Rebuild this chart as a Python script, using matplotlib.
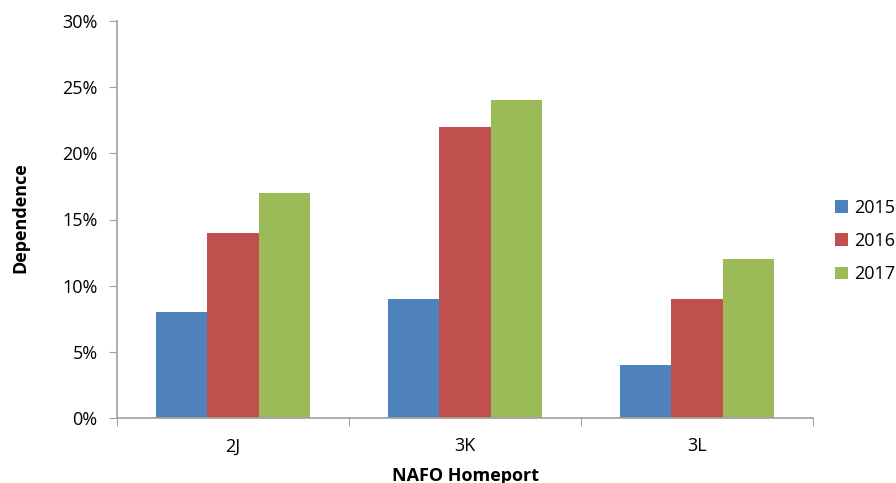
import numpy as np
import matplotlib.pyplot as plt
from matplotlib.ticker import FuncFormatter

plt.rcParams['font.family'] = ['Open Sans', 'DejaVu Sans']

ports = ['2J', '3K', '3L']
years = ['2015', '2016', '2017']
dep_2015 = [8, 9, 4]
dep_2016 = [14, 22, 9]
dep_2017 = [17, 24, 12]

cols = ['#4f81bd', '#c0504d', '#9bbb59']
axis_col = '#a0a0a0'

fig = plt.figure(figsize=(8.96, 4.83), dpi=100)
ax = fig.add_axes([117/896, 1-418/483, (813-117)/896, (418-21)/483])

x = np.arange(len(ports))
bw = 0.222
for k, (vals, yr) in enumerate(zip([dep_2015, dep_2016, dep_2017], years)):
    ax.bar(x + (k-1)*bw, vals, width=bw, color=cols[k], label=yr, zorder=2)

ax.set_xlim(-0.5, len(ports)-0.5)
ax.set_ylim(0, 30)
ax.set_yticks(np.arange(0, 31, 5))
ax.yaxis.set_major_formatter(FuncFormatter(lambda v, p: '%d%%' % v))

# category ticks sit between the groups, labels in the middle
ax.set_xticks(np.arange(-0.5, len(ports), 1.0))
ax.set_xticklabels([])
ax.set_xticks(x, minor=True)
ax.set_xticklabels(ports, minor=True)
ax.tick_params(axis='x', which='minor', length=0, pad=14, labelsize=13)
ax.tick_params(axis='x', which='major', length=6, color=axis_col, direction='out')
ax.tick_params(axis='y', length=6, color=axis_col, labelsize=13, pad=8)

for s in ['top', 'right']:
    ax.spines[s].set_visible(False)
for s in ['left', 'bottom']:
    ax.spines[s].set_color(axis_col)
    ax.spines[s].set_linewidth(1.2)

ax.set_ylabel('Dependence', fontsize=13, fontweight='bold')
ax.yaxis.set_label_coords(-0.126, 0.505)
ax.set_xlabel('NAFO Homeport', fontsize=13, fontweight='bold', labelpad=8)

ax.legend(loc='center left', bbox_to_anchor=(835/896, 1-241/483), bbox_transform=fig.transFigure,
          frameon=False, fontsize=13, handlelength=0.7, handleheight=0.7,
          handletextpad=0.35, labelspacing=0.85, borderpad=0, borderaxespad=0)

fig.savefig('out.png', dpi=100)
